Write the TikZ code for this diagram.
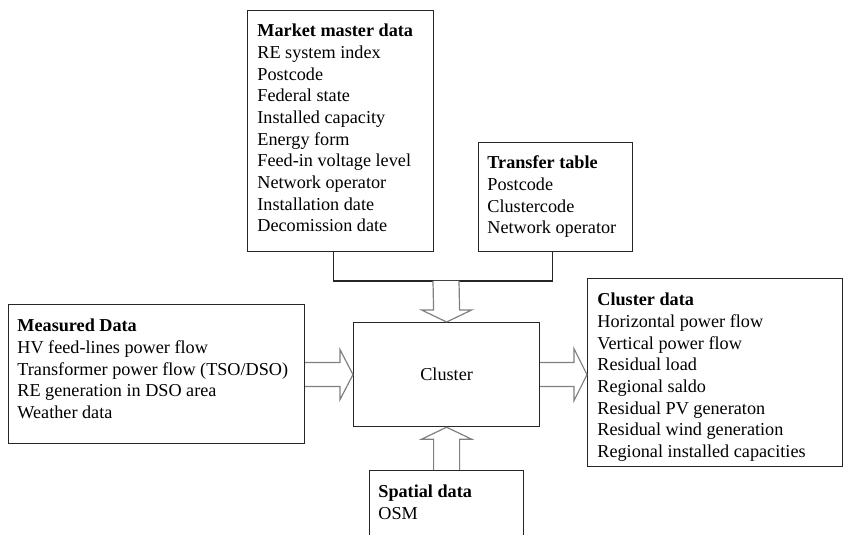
\documentclass[tikz,border=0pt]{standalone}
\usepackage{fontspec}
\setmainfont{Liberation Serif}
\usepackage{tikz}

\tikzset{
	box/.style={draw=black!85, line width=0.6pt, anchor=north west, inner sep=0pt},
	boxtext/.style={anchor=north west, align=left, inner sep=0pt, font=\fontsize{9.1}{10.85}\selectfont},
	fatarrow/.style={draw=black!50, line width=0.6pt, fill=white}
}

\begin{document}
\begin{tikzpicture}[x=0.5pt, y=-0.5pt]
		\clip (0, 0) rectangle (843, 535);

		% boites
		\node[box, minimum width=93pt, minimum height=120.5pt] (market) at (247, 10) {};
		\node[box, minimum width=77pt, minimum height=54.5pt] (transfer) at (478, 142) {};
		\node[box, minimum width=148pt, minimum height=69.5pt] (measured) at (8, 304) {};
		\node[box, minimum width=93pt, minimum height=52pt, font=\fontsize{9.1}{10.85}\selectfont] (cluster) at (353, 322) {Cluster};
		\node[box, minimum width=127.5pt, minimum height=94pt] (clusterdata) at (587, 278) {};
		\node[box, minimum width=77pt, minimum height=45pt] (spatial) at (369, 470) {};

		% textes
		\node[boxtext] (markettxt) at ([xshift=5pt, yshift=-6.8pt]market.north west) {\textbf{Market master data}\\ RE system index\\ Postcode\\ Federal state\\ Installed capacity\\ Energy form\\ Feed-in voltage level\\ Network operator\\ Installation date\\ Decomission date};
		\node[boxtext] (transfertxt) at ([xshift=4.5pt, yshift=-6.8pt]transfer.north west) {\textbf{Transfer table}\\ Postcode\\ Clustercode\\ Network operator};
		\node[boxtext] (measuredtxt) at ([xshift=4.5pt, yshift=-7.3pt]measured.north west) {\textbf{Measured Data}\\ HV feed-lines power flow\\ Transformer power flow (TSO/DSO)\\ RE generation in DSO area\\ Weather data};
		\node[boxtext] (clusterdatatxt) at ([xshift=5pt, yshift=-7.3pt]clusterdata.north west) {\textbf{Cluster data}\\ Horizontal power flow\\ Vertical power flow\\ Residual load\\ Regional saldo\\ Residual PV generaton\\ Residual wind generation\\ Regional installed capacities};
		\node[boxtext] (spatialtxt) at ([xshift=4.5pt, yshift=-7.3pt]spatial.north west) {\textbf{Spatial data}\\ OSM};

		% jonction market / transfer
		\coordinate (join) at (446, 281);
		\draw[black!85, line width=0.6pt] ([xshift=-3.5pt]market.south) |- (join) -| ([xshift=-1.5pt]transfer.south);

		% fleche vers cluster (haut)
		\draw[fatarrow] ([xshift=-6.5pt]join) -- ([xshift=-6.5pt, yshift=6pt]cluster.north) -- ([xshift=-12.5pt, yshift=6pt]cluster.north) -- (cluster.north) -- ([xshift=12.5pt, yshift=6pt]cluster.north) -- ([xshift=6.5pt, yshift=6pt]cluster.north) -- ([xshift=6.5pt]join);

		% fleche measured -> cluster
		\draw[fatarrow] ([yshift=6pt]measured.east |- cluster.west) -- ([xshift=-6.5pt, yshift=6pt]cluster.west) -- ([xshift=-6.5pt, yshift=12.5pt]cluster.west) -- (cluster.west) -- ([xshift=-6.5pt, yshift=-12.5pt]cluster.west) -- ([xshift=-6.5pt, yshift=-6pt]cluster.west) -- ([yshift=-6pt]measured.east |- cluster.west);

		% fleche cluster -> cluster data
		\draw[fatarrow] ([yshift=6pt]cluster.east) -- ([xshift=-6.5pt, yshift=6pt]clusterdata.west |- cluster.east) -- ([xshift=-6.5pt, yshift=13pt]clusterdata.west |- cluster.east) -- (clusterdata.west |- cluster.east) -- ([xshift=-6.5pt, yshift=-13pt]clusterdata.west |- cluster.east) -- ([xshift=-6.5pt, yshift=-6pt]clusterdata.west |- cluster.east) -- ([yshift=-6pt]cluster.east);

		% fleche spatial -> cluster (bas)
		\draw[fatarrow] ([xshift=-6.5pt]spatial.north) -- ([xshift=-6.5pt, yshift=-6pt]cluster.south) -- ([xshift=-12.5pt, yshift=-6pt]cluster.south) -- (cluster.south) -- ([xshift=12.5pt, yshift=-6pt]cluster.south) -- ([xshift=6.5pt, yshift=-6pt]cluster.south) -- ([xshift=6.5pt]spatial.north);

		\end{tikzpicture}
\end{document}
